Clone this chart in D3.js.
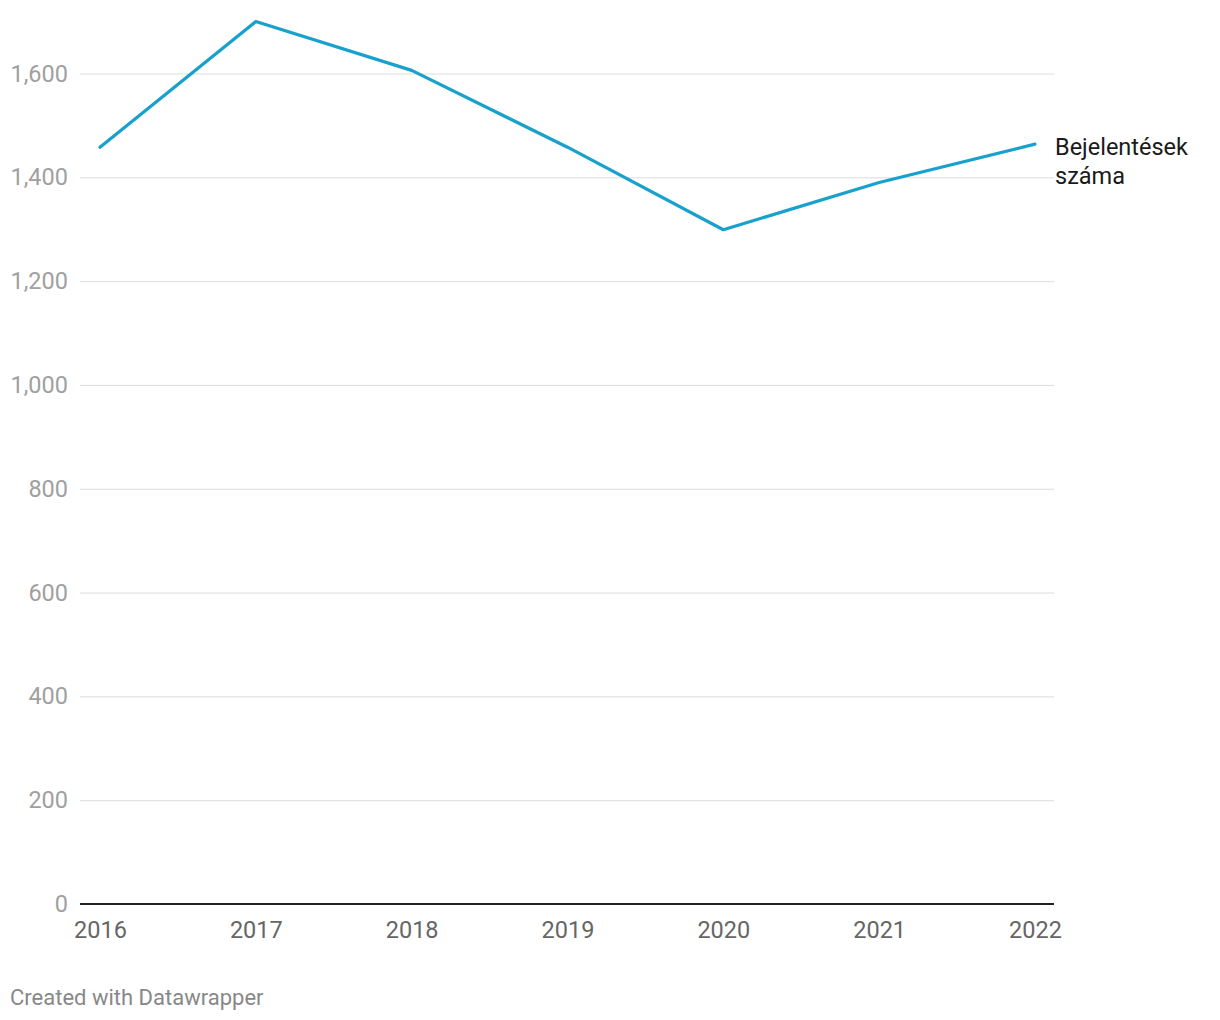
<!DOCTYPE html>
<html><head><meta charset="utf-8">
<script src="https://cdn.jsdelivr.net/npm/d3@7"></script>
<style>
body{margin:0;background:#fff;font-family:Roboto,"Noto Sans",sans-serif;}
</style></head>
<body><svg id="c" width="1220" height="1020"></svg>
<script>
const years = ["2016","2017","2018","2019","2020","2021","2022"];
const values = [1458, 1700, 1606, 1458, 1299, 1390, 1464];
const yTicks = [0, 200, 400, 600, 800, 1000, 1200, 1400, 1600];
const seriesLabel = ["Bejelentések", "száma"];
const footer = "Created with Datawrapper";

const svg = d3.select("#c");
const x = d3.scalePoint().domain(years).range([100, 1035]);
const y = d3.scaleLinear().domain([0, 1600]).range([904, 73.5]);
const gridX0 = 80, gridX1 = 1054;

const yAxis = d3.axisLeft(y).tickValues(yTicks).tickFormat(d3.format(",")).tickSize(-(gridX1-gridX0)).tickPadding(12);
const gy = svg.append("g").attr("transform", `translate(${gridX0},0)`).call(yAxis);
gy.select(".domain").remove();
gy.selectAll(".tick line").attr("stroke", "#dddddd").attr("stroke-width", 1);
gy.selectAll(".tick text").attr("fill", "#a0a0a0").style("font-size", "23.5px").style("font-family", "Roboto");
gy.selectAll(".tick").filter(d => d === 0).select("line").remove();

svg.append("line").attr("x1", gridX0).attr("x2", gridX1).attr("y1", y(0)).attr("y2", y(0))
  .attr("stroke", "#222").attr("stroke-width", 2);

const xAxis = d3.axisBottom(x).tickSize(0).tickPadding(17);
const gx = svg.append("g").attr("transform", `translate(0,${y(0)})`).call(xAxis);
gx.select(".domain").remove();
gx.selectAll(".tick text").attr("fill", "#666").style("font-size", "23.5px").style("font-family", "Roboto");

const line = d3.line().x((d, i) => x(years[i])).y(d => y(d));
svg.append("path").datum(values).attr("d", line).attr("fill", "none")
  .attr("stroke", "#18a1cd").attr("stroke-width", 3.2).attr("stroke-linejoin", "round").attr("stroke-linecap", "round");

const lbl = svg.append("text").attr("x", x(years[6]) + 20).attr("y", 155)
  .attr("fill", "#1a1a1a").style("font-size", "23.5px").style("font-family", "Roboto");
seriesLabel.forEach((t, i) => lbl.append("tspan").attr("x", x(years[6]) + 20).attr("dy", i ? 29 : 0).text(t));

svg.append("text").attr("x", 10).attr("y", 1005).attr("fill", "#888").style("font-size", "22px")
  .style("font-family", "Roboto").text(footer);
</script></body></html>
